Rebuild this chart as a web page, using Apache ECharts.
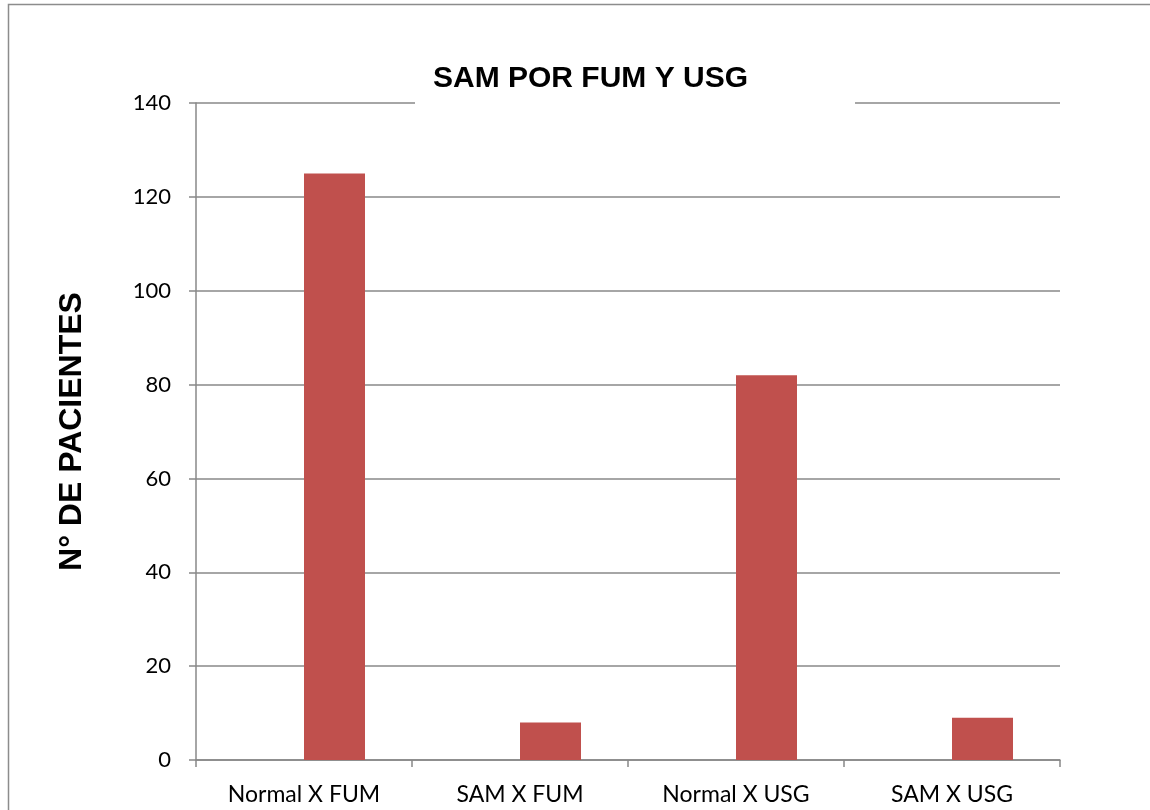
<!DOCTYPE html>
<html>
<head>
<meta charset="utf-8">
<script src="https://cdn.jsdelivr.net/npm/echarts@6/dist/echarts.min.js"></script>
<style>
  html, body { margin: 0; padding: 0; background: #fff; }
  #chart { width: 1150px; height: 810px; }
</style>
</head>
<body>
<div id="chart"></div>
<script>
// datos del gráfico
var categories = ['Normal X FUM', 'SAM X FUM', 'Normal X USG', 'SAM X USG'];
var emptySeries = ['-', '-', '-', '-']; // primera serie vacía (barra desplazada a la derecha)
var pacientes = [125, 8, 82, 9];
var yTicks = { min: 0, max: 140, interval: 20 };

var gray = '#888888';
var labelFont = 'Lato, "Open Sans", sans-serif';
var boldFont = '"Liberation Sans", Arial, sans-serif';

var chart = echarts.init(document.getElementById('chart'));

var option = {
    animation: false,
    backgroundColor: '#fff',
    graphic: [{
        // marco del área del gráfico (solo se ven los bordes superior e izquierdo)
        type: 'rect',
        shape: { x: 8.5, y: 4.5, width: 1200, height: 900 },
        style: { fill: 'none', stroke: '#8c8c8c', lineWidth: 1.5 },
        z: 100
    }],
    title: {
        text: 'SAM POR FUM Y USG',
        left: 415,
        top: 58,
        padding: [6, 107, 12, 18],
        backgroundColor: '#fff',
        textStyle: {
            fontFamily: boldFont,
            fontWeight: 'bold',
            fontSize: 30,
            color: '#000'
        },
        z: 10
    },
    grid: {
        left: 196,
        right: 90,
        top: 103,
        bottom: 50
    },
    xAxis: {
        type: 'category',
        data: categories,
        axisLine: { lineStyle: { color: gray, width: 1.5 } },
        axisTick: { show: true, length: 7, lineStyle: { color: gray, width: 1.5 } },
        axisLabel: {
            fontFamily: labelFont,
            fontSize: 23,
            color: '#000',
            margin: 23
        },
        splitLine: { show: false }
    },
    yAxis: {
        type: 'value',
        min: yTicks.min,
        max: yTicks.max,
        interval: yTicks.interval,
        name: 'N° DE PACIENTES',
        nameLocation: 'middle',
        nameGap: 108,
        nameTextStyle: {
            fontFamily: boldFont,
            fontWeight: 'bold',
            fontSize: 32,
            color: '#000'
        },
        axisLine: { show: true, lineStyle: { color: gray, width: 1.5 } },
        axisTick: { show: true, length: 7, lineStyle: { color: gray, width: 1.5 } },
        axisLabel: {
            fontFamily: labelFont,
            fontSize: 22,
            color: '#000',
            margin: 25
        },
        splitLine: { show: true, lineStyle: { color: gray, width: 1.5 } }
    },
    series: [
        {
            type: 'bar',
            data: emptySeries,
            barWidth: 61,
            barGap: '0%',
            itemStyle: { color: '#4F81BD' }
        },
        {
            type: 'bar',
            data: pacientes,
            barWidth: 61,
            barGap: '0%',
            itemStyle: { color: '#C0504D' }
        }
    ]
};

chart.setOption(option);
</script>
</body>
</html>
